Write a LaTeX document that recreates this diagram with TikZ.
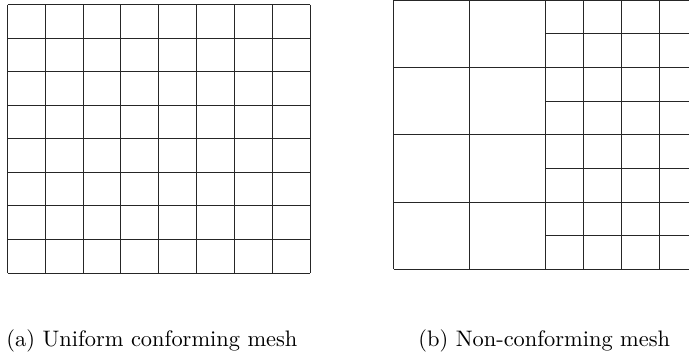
\documentclass[tikz,border=0pt]{standalone}
\begin{document}
\begin{tikzpicture}[x=0.4462pt,y=-0.4462pt,
  mesh/.style={line width=0.45pt, draw=black!85},
  caption/.style={anchor=base west, inner sep=0pt, font=\normalsize}]
\useasboundingbox (0,0) rectangle (689,351);
\clip (0,0) rectangle (689,351);
% (a) uniform 8x8 mesh
\foreach \i in {0,...,8} {
  \draw[mesh] ({7.5+37.8125*\i},4.5) -- ({7.5+37.8125*\i},273);
  \draw[mesh] (7.5,{4.5+33.5625*\i}) -- (310,{4.5+33.5625*\i});
}
% (b) non-conforming mesh: coarse cells on the left, refined cells on the right
\def\xo{393.7}\def\hx{37.95}\def\yo{0.3}\def\vy{33.62}
\foreach \k in {0,2,4,5,6,7,8} {
  \draw[mesh] ({\xo+\hx*\k},\yo) -- ({\xo+\hx*\k},{\yo+8*\vy});
}
\foreach \k in {0,2,4,6,8} {
  \draw[mesh] (\xo,{\yo+\vy*\k}) -- ({\xo+8*\hx},{\yo+\vy*\k});
}
\foreach \k in {1,3,5,7} {
  \draw[mesh] ({\xo+4*\hx},{\yo+\vy*\k}) -- ({\xo+8*\hx},{\yo+\vy*\k});
}
% captions
\node[caption] (capa) at (6,346) {(a) Uniform conforming mesh};
\node[caption] (capb) at (418,346) {(b) Non-conforming mesh};
\end{tikzpicture}
\end{document}
